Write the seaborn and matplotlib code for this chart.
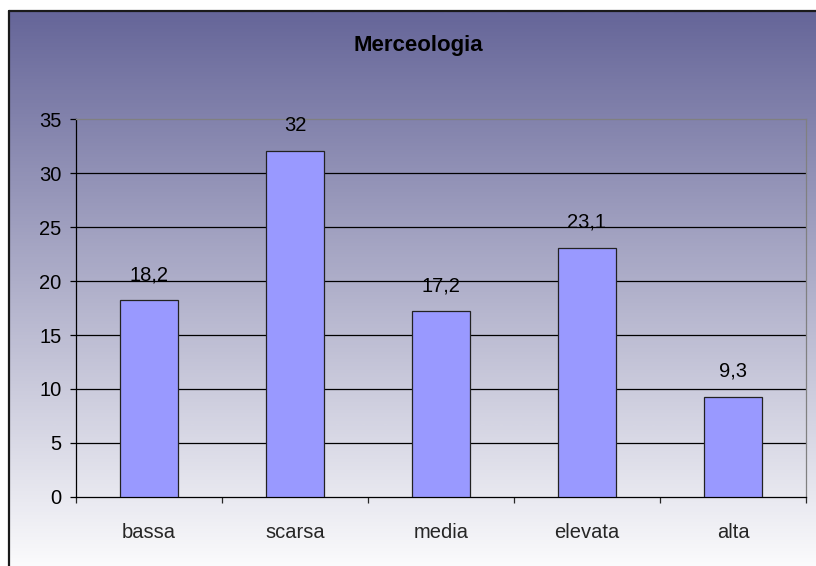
import numpy as np
import pandas as pd
import seaborn as sns
import matplotlib.pyplot as plt
import matplotlib.colors as mcolors
from matplotlib.lines import Line2D

# Data
categories = ["bassa", "scarsa", "media", "elevata", "alta"]
values = [18.2, 32, 17.2, 23.1, 9.3]
value_labels = ["18,2", "32", "17,2", "23,1", "9,3"]
y_ticks = [0, 5, 10, 15, 20, 25, 30, 35]

df = pd.DataFrame({"cat": categories, "val": values})

sns.set_style("white")
plt.rcParams["font.family"] = ["Liberation Sans", "DejaVu Sans"]

W, H = 816, 566
fig = plt.figure(figsize=(W / 100, H / 100), dpi=100)
fig.patch.set_facecolor("white")

# Background gradient inside the chart frame (frame starts at x=9, y=11)
bg = fig.add_axes([9 / W, 0, 1 - 9 / W, 1 - 11 / H], zorder=0)
cmap = mcolors.LinearSegmentedColormap.from_list("bg", ["#666699", "#ffffff"])
grad = np.linspace(0, 0.97, 256).reshape(-1, 1)
bg.imshow(grad, aspect="auto", cmap=cmap, vmin=0, vmax=1, extent=[0, 1, 0, 1])
bg.set_axis_off()

# Frame edges (left and top visible)
fig.add_artist(Line2D([9 / W, 9 / W], [0, 1 - 11 / H], color="#1a1a1a", lw=1.6))
fig.add_artist(Line2D([9 / W, 1], [1 - 11 / H, 1 - 11 / H], color="#1a1a1a", lw=1.6))

ax = fig.add_axes([76 / W, (H - 497) / H, (806 - 76) / W, (497 - 119) / H], zorder=2)
ax.set_facecolor("none")

sns.barplot(data=df, x="cat", y="val", width=0.4, color="#9999ff",
            edgecolor="#222222", linewidth=0.9, saturation=1, ax=ax, zorder=3)

ax.set_ylim(0, 35)
ax.set_xlim(-0.5, len(categories) - 0.5)
ax.set_yticks(y_ticks)
for t in y_ticks[1:-1]:
    ax.axhline(t, color="black", lw=0.9, zorder=1)

for i, (v, lab) in enumerate(zip(values, value_labels)):
    ax.annotate(lab, (i, v), xytext=(0, 14.5), textcoords="offset points",
                ha="center", va="baseline", fontsize=14.5, color="black")

for s in ["left", "bottom"]:
    ax.spines[s].set_color("black")
    ax.spines[s].set_linewidth(0.9)
for s in ["top", "right"]:
    ax.spines[s].set_color("#808080")
    ax.spines[s].set_linewidth(0.9)

ax.set_xlabel("")
ax.set_ylabel("")
ax.tick_params(axis="y", which="major", direction="out", length=4.5, width=0.9,
               pad=6, labelsize=14.5, left=True, colors="black")
ax.set_xticks(np.arange(-0.5, len(categories), 1.0), minor=True)
ax.tick_params(axis="x", which="minor", direction="out", length=4.5, width=0.9,
               bottom=True)
ax.tick_params(axis="x", which="major", length=0, pad=19, labelsize=14.5)

fig.text(418 / W, 1 - 46 / H, "Merceologia", ha="center", va="center",
         fontsize=16, fontweight="bold", color="black")

plt.savefig("out.png", dpi=100)
